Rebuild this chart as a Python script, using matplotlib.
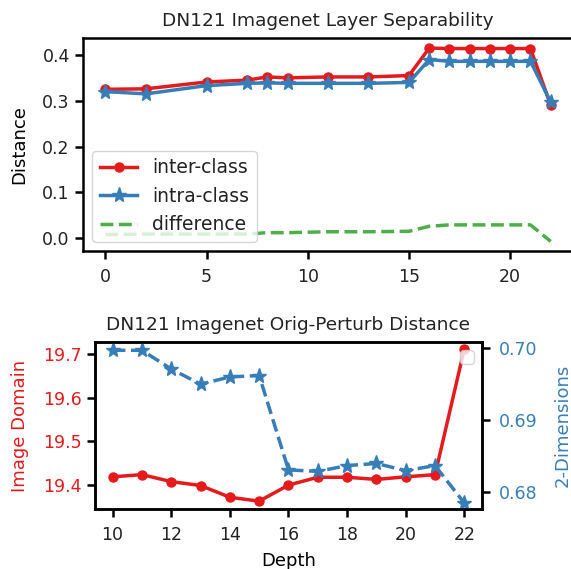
import matplotlib
matplotlib.use('Agg')
import matplotlib.pyplot as plt

# top panel: layer separability
layers = [0, 2, 5, 7, 8, 9, 11, 13, 15, 16, 17, 18, 19, 20, 21, 22]
inter_class = [0.325, 0.326, 0.341, 0.345, 0.352, 0.350, 0.352, 0.352, 0.355,
               0.415, 0.414, 0.414, 0.414, 0.414, 0.414, 0.290]
intra_class = [0.320, 0.315, 0.333, 0.338, 0.339, 0.338, 0.338, 0.338, 0.340,
               0.390, 0.386, 0.386, 0.386, 0.386, 0.386, 0.297]
difference = [0.008, 0.009, 0.009, 0.009, 0.012, 0.012, 0.014, 0.014, 0.015,
              0.026, 0.029, 0.029, 0.029, 0.029, 0.029, -0.007]

# bottom panel: orig-perturb distance
depth = [10, 11, 12, 13, 14, 15, 16, 17, 18, 19, 20, 21, 22]
image_domain = [19.418, 19.423, 19.407, 19.398, 19.371, 19.362, 19.399,
                19.417, 19.417, 19.412, 19.418, 19.423, 19.713]
two_dims = [0.6997, 0.6997, 0.6971, 0.6950, 0.6960, 0.6962, 0.6831,
            0.6829, 0.6837, 0.6840, 0.6830, 0.6837, 0.6785]

red = '#e41a1c'
blue = '#377eb8'
green = '#4daf4a'

plt.rcParams['font.size'] = 12
plt.rcParams['axes.linewidth'] = 1.8
plt.rcParams['xtick.major.width'] = 1.8
plt.rcParams['ytick.major.width'] = 1.8
plt.rcParams['xtick.major.size'] = 6
plt.rcParams['ytick.major.size'] = 6
plt.rcParams['xtick.labelsize'] = 12.5
plt.rcParams['ytick.labelsize'] = 12.5
plt.rcParams['xtick.major.pad'] = 6
plt.rcParams['text.color'] = '#222222'
plt.rcParams['xtick.labelcolor'] = '#222222'
plt.rcParams['ytick.labelcolor'] = '#222222'

fig = plt.figure(figsize=(5.71, 5.69), dpi=100)

ax1 = fig.add_axes([83 / 571, 1 - 251 / 569, 490 / 571, 213 / 569])
ax1.plot(layers, inter_class, color=red, marker='o', lw=2.5, ms=6.5, label='inter-class')
ax1.plot(layers, intra_class, color=blue, marker='*', lw=2.5, ms=11, label='intra-class')
ax1.plot(layers, difference, color=green, ls='--', lw=2.5, label='difference')
ax1.set_xlim(-1.1, 23.1)
ax1.set_ylim(-0.028, 0.437)
ax1.set_yticks([0.0, 0.1, 0.2, 0.3, 0.4])
ax1.set_xticks([0, 5, 10, 15, 20])
ax1.set_ylabel('Distance', fontsize=13, labelpad=10)
ax1.set_title('DN121 Imagenet Layer Separability', fontsize=13.3, pad=9)
ax1.legend(loc='lower left', fontsize=13.5, handlelength=2.0, borderaxespad=0.5)

ax2 = fig.add_axes([95 / 571, 1 - 509 / 569, 387 / 571, 167 / 569])
ax2.plot(depth, image_domain, color=red, marker='o', lw=2.5, ms=6.5)
ax2.set_ylim(19.344, 19.728)
ax2.set_yticks([19.4, 19.5, 19.6, 19.7])
ax2.set_xticks([10, 12, 14, 16, 18, 20, 22])
ax2.set_xlim(9.4, 22.6)
ax2.set_ylabel('Image Domain', color=red, fontsize=13, labelpad=10)
ax2.tick_params(axis='y', labelcolor=red)
ax2.set_xlabel('Depth', fontsize=13, labelpad=6)
ax2.set_title('DN121 Imagenet Orig-Perturb Distance', fontsize=13.3, pad=9)

ax3 = ax2.twinx()
ax3.plot(depth, two_dims, color=blue, marker='*', ls='--', lw=2.5, ms=11)
ax3.set_ylim(0.67768, 0.70085)
ax3.set_yticks([0.68, 0.69, 0.70])
ax3.set_yticklabels(['0.68', '0.69', '0.70'])
ax3.set_ylabel('2-Dimensions', color=blue, fontsize=13, labelpad=12)
ax3.tick_params(axis='y', labelcolor=blue, pad=6)
ax3.legend(handles=[], loc='upper right')

fig.savefig('out.png', dpi=100)
